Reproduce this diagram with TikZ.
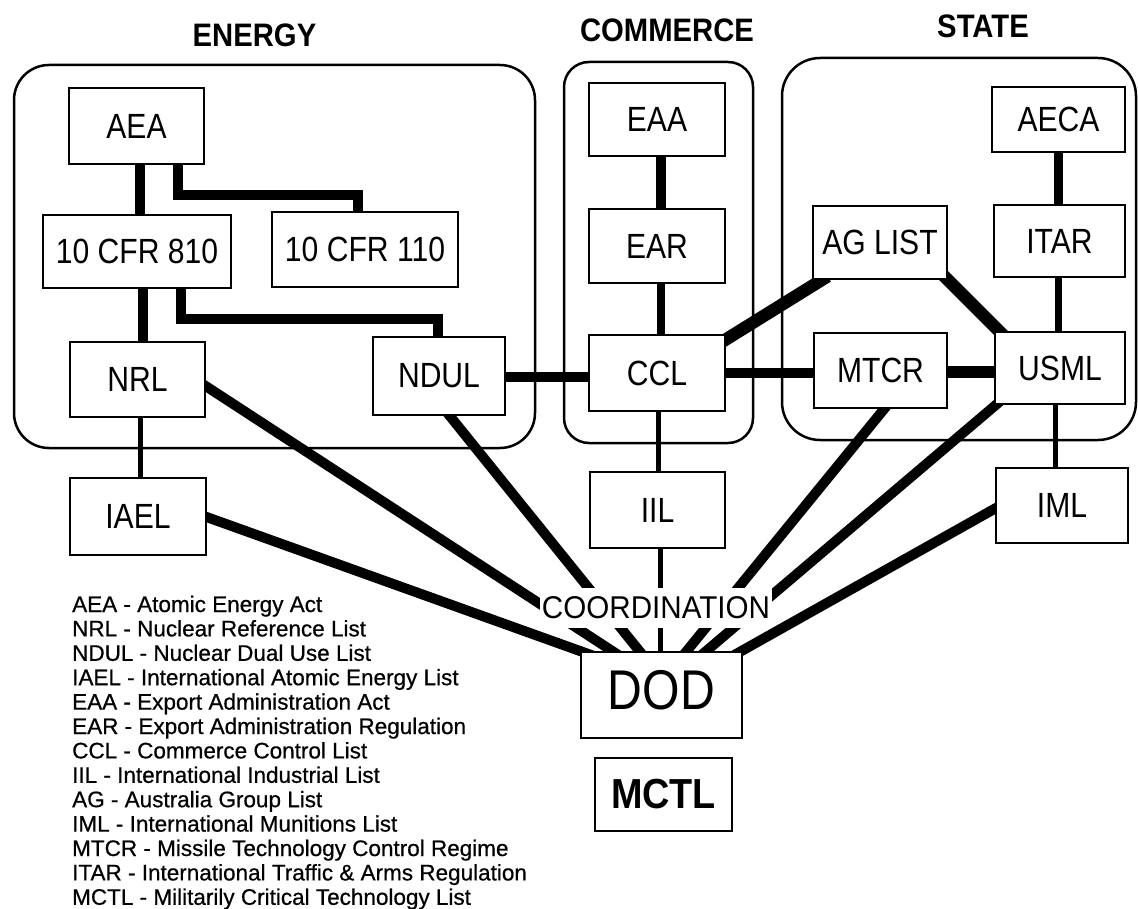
\documentclass[tikz,border=0pt]{standalone}
\usepackage{fontspec}
\setmainfont{Liberation Sans}
\newfontfamily\legfont[FakeBold=0.6]{Liberation Sans}
\newfontfamily\boxfont[FakeStretch=0.86]{Liberation Sans}
\newfontfamily\coordfont[FakeStretch=0.94]{Liberation Sans}
\newfontfamily\titlefont[FakeStretch=0.9]{Liberation Sans}
\usetikzlibrary{backgrounds}
\begin{document}
\begin{tikzpicture}[x=1pt,y=-1pt,
  lbox/.style={draw, line width=2.5pt, fill=white, inner sep=0pt, outer sep=0pt,
               font=\boxfont\fontsize{35}{40}\selectfont},
  container/.style={draw, line width=2.5pt, rounded corners=#1, inner sep=0pt, outer sep=0pt},
  container/.default=35pt,
  title/.style={font=\titlefont\bfseries\fontsize{32.5}{36}\selectfont, inner sep=0pt},
  coordlbl/.style={fill=white, inner xsep=2pt, inner ysep=9pt,
                   font=\coordfont\fontsize{31.5}{34}\selectfont},
  legend/.style={inner sep=0pt, font=\legfont\fontsize{22.5}{24.4}\selectfont},
  wthick/.style={line width=10pt},
  wmid/.style={line width=8pt},
  wheavy/.style={line width=12.5pt},
  wthin/.style={line width=5pt}
]
\useasboundingbox (0,0) rectangle (1138,909);

% group containers
\node[container, minimum width=521pt, minimum height=383pt] (energy) at (274.5,256.5) {};
\node[container=25pt, minimum width=189pt, minimum height=381pt] (commerce) at (658.5,252.5) {};
\node[container=38pt, minimum width=354pt, minimum height=382pt] (state) at (959,249) {};

% titles
\node[title] (tenergy) at (254.5,35) {ENERGY};
\node[title] (tcommerce) at (667,30) {COMMERCE};
\node[title] (tstate) at (983,26) {STATE};

% energy boxes
\node[lbox, minimum width=135pt, minimum height=76pt] (aea) at (136.5,126) {AEA};
\node[lbox, minimum width=188pt, minimum height=73pt] (cfr810) at (137,251.5) {10 CFR 810};
\node[lbox, minimum width=186pt, minimum height=75pt] (cfr110) at (365,249.5) {10 CFR 110};
\node[lbox, minimum width=135pt, minimum height=75pt] (nrl) at (137.5,379.5) {NRL};
\node[lbox, minimum width=132pt, minimum height=78pt] (ndul) at (439,376) {NDUL};
\node[lbox, minimum width=136pt, minimum height=77pt] (iael) at (138,516.5) {IAEL};

% commerce boxes
\node[lbox, minimum width=136pt, minimum height=73pt] (eaa) at (657,119.5) {EAA};
\node[lbox, minimum width=136pt, minimum height=74pt] (ear) at (657,246) {EAR};
\node[lbox, minimum width=136pt, minimum height=76pt] (ccl) at (657,373) {CCL};
\node[lbox, minimum width=135pt, minimum height=76pt] (iil) at (657.5,510) {IIL};

% state boxes
\node[lbox, minimum width=134pt, minimum height=73pt] (ag) at (880,242.5) {AG LIST};
\node[lbox, minimum width=133pt, minimum height=75pt] (mtcr) at (880.5,370.5) {MTCR};
\node[lbox, minimum width=133pt, minimum height=65pt] (aeca) at (1058.5,119.5) {AECA};
\node[lbox, minimum width=131pt, minimum height=72pt] (itar) at (1059.5,241) {ITAR};
\node[lbox, minimum width=130pt, minimum height=72pt] (usml) at (1060,368) {USML};
\node[lbox, minimum width=132pt, minimum height=75pt] (iml) at (1062,505.5) {IML};

% DOD and MCTL
\node[lbox, minimum width=161pt, minimum height=86pt, text depth=10pt,
      font=\boxfont\fontsize{56}{60}\selectfont] (dod) at (661.5,695) {DOD};
\node[lbox, minimum width=137pt, minimum height=73pt,
      font=\titlefont\bfseries\fontsize{42}{46}\selectfont] (mctl) at (663.5,794.5) {MCTL};

\node[coordlbl] (coordination) at (656,608) {COORDINATION};

% legend
\foreach \t [count=\i from 0] in {
  AEA - Atomic Energy Act,
  NRL - Nuclear Reference List,
  NDUL - Nuclear Dual Use List,
  IAEL - International Atomic Energy List,
  EAA - Export Administration Act,
  EAR - Export Administration Regulation,
  CCL - Commerce Control List,
  IIL - International Industrial List,
  AG - Australia Group List,
  IML - International Munitions List,
  MTCR - Missile Technology Control Regime,
  ITAR - International Traffic \& Arms Regulation,
  MCTL - Militarily Critical Technology List}
  \node[legend, anchor=base west] (leg\i) at (72,{612+24.4*\i}) {\t};

% connectors (behind the boxes)
\begin{scope}[on background layer]
  \fill[white] (0,0) rectangle (1138,909);
  % energy
  \draw[wthick] ([xshift=3.5pt]aea.center) -- ([xshift=3.5pt]aea.center |- cfr810.center);
  \draw[wthick] ([xshift=41.5pt]aea.center) -- ([xshift=41.5pt,yshift=-31pt]aea.south)
                -| ([xshift=-7pt]cfr110.center);
  \draw[wthick] ([xshift=6pt]cfr810.center) -- ([xshift=6pt]cfr810.center |- nrl.center);
  \draw[wthick] ([xshift=44pt]cfr810.center) -- ([xshift=44pt,yshift=-31pt]cfr810.south)
                -| ([xshift=-1pt]ndul.center);
  \draw[wthin] ([xshift=2.5pt]nrl.center) -- ([xshift=2.5pt]nrl.center |- iael.center);
  \draw[wthick] ([yshift=-1pt]ndul.center) -- ([yshift=-1pt]ndul.center -| ccl.center);
  % commerce
  \draw[wthick] ([xshift=4pt]eaa.center) -- ([xshift=4pt]eaa.center |- ear.center);
  \draw[wmid] ([xshift=4pt]ear.center) -- ([xshift=4pt]ear.center |- ccl.center);
  \draw[wthin] ([xshift=1pt]ccl.center) -- ([xshift=1pt]ccl.center |- iil.center);
  \draw[wheavy] ([xshift=-7.6pt,yshift=-9.7pt]ccl.north east) -- ([xshift=14.6pt,yshift=2.7pt]ag.south west);
  \draw[wthick] (ccl.center) -- (ccl.center -| mtcr.center);
  % state
  \draw[wheavy] ([yshift=-1.5pt]mtcr.center) -- ([yshift=-1.5pt]mtcr.center -| usml.center);
  \draw[wheavy] ([xshift=-10pt,yshift=10pt]ag.south east) -- ([xshift=10pt,yshift=-5pt]usml.north west);
  \draw[line width=9pt] (aeca.center) -- (aeca.center |- itar.center);
  \draw[line width=7pt] ([xshift=-1.5pt]itar.center) -- ([xshift=-1.5pt]itar.center |- usml.center);
  \draw[wthin] ([xshift=-5pt]usml.center) -- ([xshift=-5pt]usml.center |- iml.center);
  % coordination lines into DOD
  \draw[wthin] ([xshift=2.5pt]iil.center) -- ([xshift=2.5pt]iil.center |- dod.center);
  \draw[wthick] ([xshift=-5pt,yshift=1.5pt]iael.east) -- ([xshift=18.5pt,yshift=-6pt]dod.north west);
  \draw[wthick] ([xshift=-4pt,yshift=-3.5pt]nrl.east) -- ([xshift=42pt,yshift=-6pt]dod.north west);
  \draw[wthick] ([xshift=6pt,yshift=5pt]ndul.south) -- ([xshift=64pt,yshift=-6pt]dod.north west);
  \draw[wthick] ([xshift=8.5pt,yshift=5pt]mtcr.south) -- ([xshift=100pt,yshift=-6pt]dod.north west);
  \draw[wthick] ([xshift=9pt,yshift=6pt]usml.south west) -- ([xshift=117pt,yshift=-6pt]dod.north west);
  \draw[wthick] ([xshift=8pt,yshift=2pt]iml.west) -- ([xshift=148pt,yshift=-6pt]dod.north west);
\end{scope}
\end{tikzpicture}
\end{document}
